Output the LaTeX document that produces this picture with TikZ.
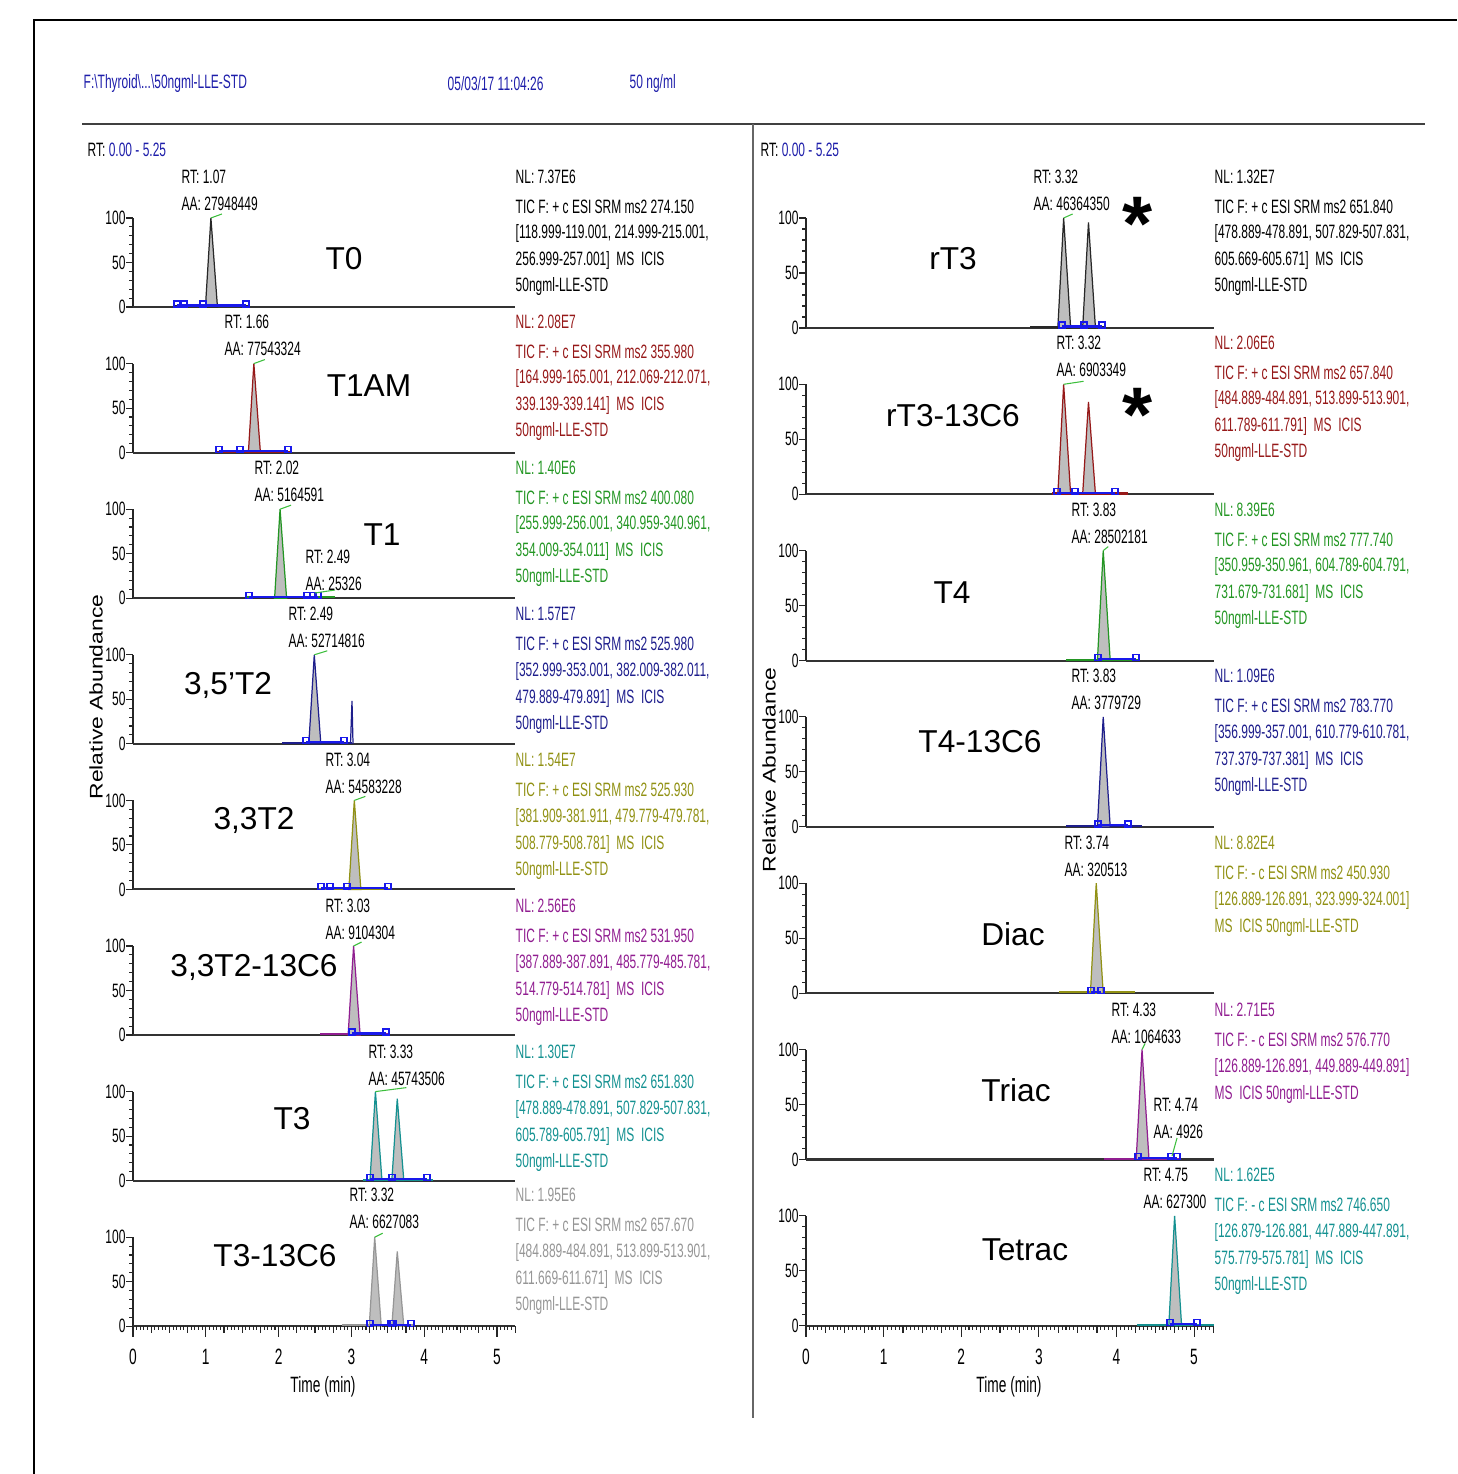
\documentclass[tikz,border=0pt]{standalone}
\usepackage{fontspec}
\setmainfont{Liberation Sans}
\newfontfamily\narrowsf[FakeStretch=0.62]{Liberation Sans}
\newfontfamily\widesf[FakeStretch=1.25]{Liberation Sans}
\usepackage{tikz}
\usetikzlibrary{positioning}

\definecolor{tblack}{RGB}{40,40,40}
\definecolor{tred}{RGB}{150,25,25}
\definecolor{tgreen}{RGB}{35,150,35}
\definecolor{tblue}{RGB}{30,30,140}
\definecolor{tolive}{RGB}{145,145,20}
\definecolor{tpurple}{RGB}{145,30,145}
\definecolor{tteal}{RGB}{20,145,145}
\definecolor{tgray}{RGB}{150,150,150}
\definecolor{hblue}{RGB}{30,30,170}
\definecolor{iblue}{RGB}{25,25,235}
\definecolor{tiegreen}{RGB}{60,190,60}
\definecolor{pkgray}{RGB}{190,190,190}

\tikzset{
  lbl/.style={font=\narrowsf\fontsize{5.5}{6.5}\selectfont, inner sep=0pt, anchor=west},
  axlbl/.style={font=\narrowsf\fontsize{6.3}{7}\selectfont, inner sep=0pt},
  biglbl/.style={font=\fontsize{9}{10}\selectfont, inner sep=0pt},
  ylbl/.style={font=\widesf\fontsize{5.2}{6}\selectfont, inner sep=0pt, rotate=90},
  axln/.style={draw=black!85, line width=0.3pt},
  baseln/.style={draw=black!80, line width=0.6pt},
  intg/.style={draw=iblue, line width=0.6pt},
  mark box/.style={draw=iblue, line width=0.35pt},
  tie/.style={draw=tiegreen, line width=0.3pt},
  pkfill/.style={fill=pkgray, line width=0.35pt},
}

% y axis: x0, base, height
\newcommand{\yax}[3]{%
  \draw[axln] (#1,#2) -- (#1,{#2-#3});
  \foreach \t in {1,2,3,4,6,7,8,9} \draw[axln] (#1,{#2-#3*\t/10}) -- ++(-4,0);
  \foreach \t in {0,50,100} \draw[axln] (#1,{#2-#3*\t/100}) -- ++(-7,0) node[lbl, anchor=east] (y\t) {\t};
}
% x axis: x0, px per min, base
\newcommand{\xax}[3]{%
  \foreach \t in {0,...,105} \draw[axln] ({#1+#2*\t*0.05},#3) -- ++(0,4);
  \foreach \t in {0,...,21} \draw[axln] ({#1+#2*\t*0.25},#3) -- ++(0,7);
  \foreach \t in {0,...,5} {
    \draw[axln] ({#1+#2*\t},#3) -- ++(0,11);
    \node[axlbl] (x\t) at ({#1+#2*\t},{#3+31}) {\t};}
}
% peak: x0, px per min, base, height, rt, rel, colour
\newcommand{\pk}[7]{%
  \filldraw[pkfill, draw=#7] ({#1+#2*(#5-0.075)},#3) -- ({#1+#2*#5},{#3-#4*#6/100}) -- ({#1+#2*(#5+0.09)},#3) -- cycle;}
% integration baseline: base, from, to, markers
\newcommand{\ib}[4]{%
  \draw[intg] (#2,{#1-1.5}) -- (#3,{#1-1.5});
  \foreach \q in {#4} \draw[mark box] ({\q-3},#1) rectangle ({\q+3},{#1-6});}
% trace along the baseline: base, from, to, colour
\newcommand{\tr}[4]{\draw[#4, line width=0.6pt] (#2,{#1-0.8}) -- (#3,{#1-0.8});}
% peak label: name, x, y, rt, area
\newcommand{\pl}[5]{%
  \node[lbl] (#1rt) at (#2,#3) {RT: #4};
  \node[lbl] (#1aa) at (#2,{#3+27}) {AA: #5};}
% scan info: name, x, y, colour, five lines
\newcommand{\info}[9]{%
  \node[lbl, text=#4] (#1nl) at (#2,#3) {#5};
  \node[lbl, text=#4] (#1a) at (#2,{#3+30}) {#6};
  \node[lbl, text=#4] (#1b) at (#2,{#3+57}) {#7};
  \node[lbl, text=#4] (#1c) at (#2,{#3+84}) {#8};
  \node[lbl, text=#4] (#1d) at (#2,{#3+110}) {#9};}

\begin{document}
\begin{tikzpicture}[x=0.01cm, y=-0.01cm]
\useasboundingbox (0,0) rectangle (1457,1474);

% frame and header
\draw[line width=0.75pt] (34,1474) -- (34,20) -- (1457,20);
\node[lbl, text=hblue] (file) at (83,84) {F:\textbackslash Thyroid\textbackslash ...\textbackslash 50ngml-LLE-STD};
\node[lbl, text=hblue] (date) at (447,84) {05/03/17 11:04:26};
\node[lbl, text=hblue] (conc) at (629,84) {50 ng/ml};
\draw[black!75, line width=0.6pt] (82,124) -- (1425,124);
\draw[black!60, line width=0.4pt] (753,124) -- (753,1418);
\node[lbl] (rangeL) at (87,150) {RT: \textcolor{hblue}{0.00 - 5.25}};
\node[lbl] (rangeR) at (760,150) {RT: \textcolor{hblue}{0.00 - 5.25}};
\node[ylbl] (abL) at (96,697) {Relative Abundance};
\node[ylbl] (abR) at (769,770) {Relative Abundance};

% ---------------- left column ----------------
% T0
\yax{133}{307}{89} \draw[baseln] (133,307) -- (515,307);
\tr{307}{175}{250}{tblack} \pk{133}{72.8}{307}{89}{1.07}{100}{tblack}
\ib{307}{177}{246}{177,184,203,246}
\draw[tie] ({133+72.8*1.07},218) -- ++(11,-4);
\pl{tzero}{181}{177}{1.07}{27948449}
\node[biglbl] (T0) at (344,259) {T0};
\info{tzero}{515}{177}{black}{NL: 7.37E6}{TIC F: + c ESI SRM ms2 274.150}{[118.999-119.001, 214.999-215.001,}{256.999-257.001]\ \ MS\ \ ICIS}{50ngml-LLE-STD}

% T1AM
\yax{133}{452.6}{89} \draw[baseln] (133,452.6) -- (515,452.6);
\tr{452.6}{217}{290}{tred} \pk{133}{72.8}{452.6}{89}{1.66}{100}{tred}
\ib{452.6}{219}{288}{219,240,288}
\draw[tie] ({133+72.8*1.66},363.6) -- ++(11,-4);
\pl{tam}{224}{322}{1.66}{77543324}
\node[biglbl] (T1AM) at (369,386) {T1AM};
\info{tam}{515}{322}{tred}{NL: 2.08E7}{TIC F: + c ESI SRM ms2 355.980}{[164.999-165.001, 212.069-212.071,}{339.139-339.141]\ \ MS\ \ ICIS}{50ngml-LLE-STD}

% T1
\yax{133}{598.2}{89} \draw[baseln] (133,598.2) -- (515,598.2);
\tr{598.2}{247}{335}{tgreen} \pk{133}{72.8}{598.2}{89}{2.02}{100}{tgreen}
\ib{598.2}{249}{318}{249,307,313,318}
\draw[tie] ({133+72.8*2.02},509.2) -- ++(11,-4);
\draw[tie] (315,593) -- (335,590);
\pl{tone}{254}{468}{2.02}{5164591}
\pl{tonex}{305}{557}{2.49}{25326}
\node[biglbl] (T1) at (382,535) {T1};
\info{tone}{515}{468}{tgreen}{NL: 1.40E6}{TIC F: + c ESI SRM ms2 400.080}{[255.999-256.001, 340.959-340.961,}{354.009-354.011]\ \ MS\ \ ICIS}{50ngml-LLE-STD}

% 3,5'T2
\yax{133}{743.8}{89} \draw[baseln] (133,743.8) -- (515,743.8);
\tr{743.8}{282}{352}{tblue} \pk{133}{72.8}{743.8}{89}{2.49}{100}{tblue}
\draw[tblue, line width=0.35pt] (350.5,743.8) -- (352,701) -- (353,743.8);
\ib{743.8}{306}{344}{306,344}
\draw[tie] ({133+72.8*2.49},654.8) -- ++(13,-4);
\pl{tfive}{288}{614}{2.49}{52714816}
\node[biglbl] (T35) at (228,685) {3,5’T2};
\info{tfive}{515}{614}{tblue}{NL: 1.57E7}{TIC F: + c ESI SRM ms2 525.980}{[352.999-353.001, 382.009-382.011,}{479.889-479.891]\ \ MS\ \ ICIS}{50ngml-LLE-STD}

% 3,3T2
\yax{133}{889.4}{89} \draw[baseln] (133,889.4) -- (515,889.4);
\tr{889.4}{319}{390}{tolive} \pk{133}{72.8}{889.4}{89}{3.04}{100}{tolive}
\ib{889.4}{321}{388}{321,330,347,388}
\draw[tie] ({133+72.8*3.04},800.4) -- ++(11,-4);
\pl{tthree}{325}{760}{3.04}{54583228}
\node[biglbl] (T33) at (254,820) {3,3T2};
\info{tthree}{515}{760}{tolive}{NL: 1.54E7}{TIC F: + c ESI SRM ms2 525.930}{[381.909-381.911, 479.779-479.781,}{508.779-508.781]\ \ MS\ \ ICIS}{50ngml-LLE-STD}

% 3,3T2-13C6
\yax{133}{1035}{89} \draw[baseln] (133,1035) -- (515,1035);
\tr{1035}{320}{390}{tpurple} \pk{133}{72.8}{1035}{89}{3.03}{100}{tpurple}
\ib{1035}{352}{386}{352,386}
\draw[tie] ({133+72.8*3.03},946) -- ++(8,-4);
\pl{tthreec}{325}{906}{3.03}{9104304}
\node[biglbl] (T33C) at (254,967) {3,3T2-13C6};
\info{tthreec}{515}{906}{tpurple}{NL: 2.56E6}{TIC F: + c ESI SRM ms2 531.950}{[387.889-387.891, 485.779-485.781,}{514.779-514.781]\ \ MS\ \ ICIS}{50ngml-LLE-STD}

% T3
\yax{133}{1180.6}{89} \draw[baseln] (133,1180.6) -- (515,1180.6);
\tr{1180.6}{363}{433}{tteal} \pk{133}{72.8}{1180.6}{89}{3.33}{100}{tteal} \pk{133}{72.8}{1180.6}{89}{3.63}{92}{tteal}
\ib{1180.6}{370}{427}{370,392,427}
\draw[tie] ({133+72.8*3.33},1091.6) -- ++(31,-4);
\pl{tt}{368}{1052}{3.33}{45743506}
\node[biglbl] (T3) at (292,1119) {T3};
\info{tt}{515}{1052}{tteal}{NL: 1.30E7}{TIC F: + c ESI SRM ms2 651.830}{[478.889-478.891, 507.829-507.831,}{605.789-605.791]\ \ MS\ \ ICIS}{50ngml-LLE-STD}

% T3-13C6
\yax{133}{1326.2}{89} \draw[baseln] (133,1326.2) -- (515,1326.2);
\tr{1326.2}{342}{413}{tgray} \pk{133}{72.8}{1326.2}{89}{3.32}{100}{tgray} \pk{133}{72.8}{1326.2}{89}{3.63}{84}{tgray}
\ib{1326.2}{370}{411}{370,391,393,411}
\draw[tie] ({133+72.8*3.32},1237.2) -- ++(8,-4);
\pl{ttc}{349}{1195}{3.32}{6627083}
\node[biglbl] (T3C) at (275,1256) {T3-13C6};
\info{ttc}{515}{1195}{tgray}{NL: 1.95E6}{TIC F: + c ESI SRM ms2 657.670}{[484.889-484.891, 513.899-513.901,}{611.669-611.671]\ \ MS\ \ ICIS}{50ngml-LLE-STD}
\xax{133}{72.8}{1326.2}
\node[axlbl] (timeL) at (323,1387) {Time (min)};

% ---------------- right column ----------------
% rT3
\yax{806}{328}{110} \draw[baseln] (806,328) -- (1214,328);
\tr{328}{1030}{1104}{tblack} \pk{806}{77.6}{328}{110}{3.32}{100}{tblack} \pk{806}{77.6}{328}{110}{3.64}{96}{tblack}
\ib{328}{1062}{1102}{1062,1084,1102}
\draw[tie] ({806+77.6*3.32},218) -- ++(9,-4);
\pl{rt}{1033}{177}{3.32}{46364350}
\node[biglbl] (rT3) at (953,259) {rT3};
\node[font=\fontsize{22}{22}\bfseries\selectfont, inner sep=0pt, anchor=north] (starA) at (1138,197) {*};
\info{rt}{1214}{177}{black}{NL: 1.32E7}{TIC F: + c ESI SRM ms2 651.840}{[478.889-478.891, 507.829-507.831,}{605.669-605.671]\ \ MS\ \ ICIS}{50ngml-LLE-STD}

% rT3-13C6
\yax{806}{494.3}{110} \draw[baseln] (806,494.3) -- (1214,494.3);
\tr{494.3}{1052}{1128}{tred} \pk{806}{77.6}{494.3}{110}{3.32}{100}{tred} \pk{806}{77.6}{494.3}{110}{3.64}{84}{tred}
\ib{494.3}{1057}{1115}{1057,1075,1115}
\draw[tie] ({806+77.6*3.32},384.3) -- ++(20,-3);
\pl{rtc}{1056}{343}{3.32}{6903349}
\node[biglbl] (rT3C) at (953,416) {rT3-13C6};
\node[font=\fontsize{22}{22}\bfseries\selectfont, inner sep=0pt, anchor=north] (starB) at (1138,388) {*};
\info{rtc}{1214}{343}{tred}{NL: 2.06E6}{TIC F: + c ESI SRM ms2 657.840}{[484.889-484.891, 513.899-513.901,}{611.789-611.791]\ \ MS\ \ ICIS}{50ngml-LLE-STD}

% T4
\yax{806}{660.6}{110} \draw[baseln] (806,660.6) -- (1214,660.6);
\tr{660.6}{1066}{1140}{tgreen} \pk{806}{77.6}{660.6}{110}{3.83}{100}{tgreen}
\ib{660.6}{1098}{1136}{1098,1136}
\draw[tie] ({806+77.6*3.83},550.6) -- ++(5,-4);
\pl{tf}{1071}{510}{3.83}{28502181}
\node[biglbl] (T4) at (952,593) {T4};
\info{tf}{1214}{510}{tgreen}{NL: 8.39E6}{TIC F: + c ESI SRM ms2 777.740}{[350.959-350.961, 604.789-604.791,}{731.679-731.681]\ \ MS\ \ ICIS}{50ngml-LLE-STD}

% T4-13C6
\yax{806}{826.9}{110} \draw[baseln] (806,826.9) -- (1214,826.9);
\tr{826.9}{1066}{1142}{tblue} \pk{806}{77.6}{826.9}{110}{3.83}{100}{tblue}
\ib{826.9}{1098}{1128}{1098,1128}
\pl{tfc}{1071}{676}{3.83}{3779729}
\node[biglbl] (T4C) at (980,742) {T4-13C6};
\info{tfc}{1214}{676}{tblue}{NL: 1.09E6}{TIC F: + c ESI SRM ms2 783.770}{[356.999-357.001, 610.779-610.781,}{737.379-737.381]\ \ MS\ \ ICIS}{50ngml-LLE-STD}

% Diac
\yax{806}{993.2}{110} \draw[baseln] (806,993.2) -- (1214,993.2);
\tr{993.2}{1059}{1135}{tolive} \pk{806}{77.6}{993.2}{110}{3.74}{100}{tolive}
\ib{993.2}{1091}{1101}{1091,1101}
\pl{di}{1064}{843}{3.74}{320513}
\node[biglbl] (Diac) at (1013,934) {Diac};
\info{di}{1214}{843}{tolive}{NL: 8.82E4}{TIC F: - c ESI SRM ms2 450.930}{[126.889-126.891, 323.999-324.001]}{MS\ \ ICIS 50ngml-LLE-STD}{}

% Triac
\yax{806}{1159.5}{110} \draw[baseln] (806,1159.5) -- (1214,1159.5);
\tr{1159.5}{1104}{1180}{tpurple} \pk{806}{77.6}{1159.5}{110}{4.33}{100}{tpurple}
\ib{1159.5}{1138}{1177}{1138,1171,1177}
\draw[tie] ({806+77.6*4.33},1049.5) -- ++(3,-6);
\draw[tie] (1172,1156) -- (1177,1138);
\pl{tri}{1111}{1010}{4.33}{1064633}
\pl{trix}{1153}{1105}{4.74}{4926}
\node[biglbl] (Triac) at (1016,1090) {Triac};
\info{tri}{1214}{1010}{tpurple}{NL: 2.71E5}{TIC F: - c ESI SRM ms2 576.770}{[126.889-126.891, 449.889-449.891]}{MS\ \ ICIS 50ngml-LLE-STD}{}

% Tetrac
\yax{806}{1325.8}{110} \draw[baseln] (806,1325.8) -- (1214,1325.8);
\tr{1325.8}{1137}{1214}{tteal} \pk{806}{77.6}{1325.8}{110}{4.75}{100}{tteal}
\ib{1325.8}{1170}{1197}{1170,1197}
\pl{te}{1143}{1175}{4.75}{627300}
\node[biglbl] (Tetrac) at (1025,1250) {Tetrac};
\info{te}{1214}{1175}{tteal}{NL: 1.62E5}{TIC F: - c ESI SRM ms2 746.650}{[126.879-126.881, 447.889-447.891,}{575.779-575.781]\ \ MS\ \ ICIS}{50ngml-LLE-STD}
\xax{806}{77.6}{1325.8}
\node[axlbl] (timeR) at (1009,1387) {Time (min)};
\end{tikzpicture}
\end{document}
